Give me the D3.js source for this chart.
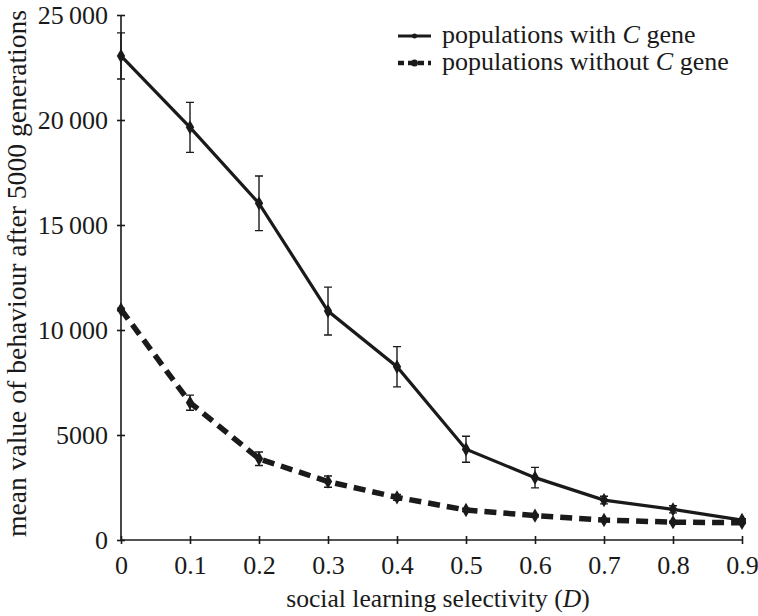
<!DOCTYPE html>
<html>
<head>
<meta charset="utf-8">
<script src="https://cdn.jsdelivr.net/npm/d3@7"></script>
<style>
  body { margin: 0; background: #fff; }
  svg { display: block; }
  text { font-family: "Liberation Serif", "Times New Roman", "DejaVu Serif", serif; fill: #1a1a1a; }
</style>
</head>
<body>
<svg id="chart" width="758" height="616"></svg>
<script>
const xValues = [0, 0.1, 0.2, 0.3, 0.4, 0.5, 0.6, 0.7, 0.8, 0.9];
const withC = [23050, 19650, 16030, 10900, 8250, 4320, 2970, 1900, 1460, 950];
const withCErr = [1100, 1190, 1300, 1140, 960, 620, 490, 180, 170, 60];
const withoutC = [10980, 6540, 3870, 2780, 2030, 1430, 1160, 950, 850, 820];
const withoutCErr = [60, 360, 320, 270, 140, 80, 60, 50, 40, 40];
const yTickValues = [0, 5000, 10000, 15000, 20000, 25000];
const yTickLabels = ["0", "5000", "10\u2009000", "15\u2009000", "20\u2009000", "25\u2009000"];
const xTickLabels = ["0", "0.1", "0.2", "0.3", "0.4", "0.5", "0.6", "0.7", "0.8", "0.9"];
const seriesNames = ["populations with ", "populations without "];

const W = 758, H = 616;
const margin = { left: 121, right: 16, top: 15, bottom: 76 };
const svg = d3.select("#chart");
const ink = "#1a1a1a";
const FONT = '"Liberation Serif", "Times New Roman", "DejaVu Serif", serif';

const x = d3.scaleLinear().domain([0, 0.9]).range([margin.left, W - margin.right]);
const y = d3.scaleLinear().domain([0, 25000]).range([H - margin.bottom, margin.top]);

const xAxis = d3.axisBottom(x).tickValues(xValues).tickFormat((d, i) => xTickLabels[i]).tickSize(4).tickPadding(12);
const yAxis = d3.axisLeft(y).tickValues(yTickValues).tickFormat((d, i) => yTickLabels[i]).tickSize(4).tickPadding(9);

const gx = svg.append("g").attr("transform", `translate(0,${y(0)})`).call(xAxis);
const gy = svg.append("g").attr("transform", `translate(${x(0)},0)`).call(yAxis);
[gx, gy].forEach(g => {
  g.attr("font-family", FONT);
  g.select(".domain").attr("stroke", ink).attr("stroke-width", 1.6);
  g.selectAll(".tick line").attr("stroke", ink).attr("stroke-width", 1.6);
  g.selectAll(".tick text").attr("font-size", 26).attr("font-family", FONT).attr("fill", ink);
});
gx.selectAll(".tick line").attr("y1", -4).attr("y2", 4);
gy.selectAll(".tick line").attr("x1", -4).attr("x2", 4);
gx.select(".domain").attr("d", `M${x(0)},0H${x(0.9)}`);
gy.select(".domain").attr("d", `M0,${y(0)}V${y(25000)}`);

const xt = svg.append("text").attr("x", 438).attr("y", 607)
  .attr("text-anchor", "middle").attr("font-size", 25.6).attr("font-family", FONT);
xt.append("tspan").text("social learning selectivity (");
xt.append("tspan").attr("font-style", "italic").text("D");
xt.append("tspan").text(")");

svg.append("text").attr("transform", `translate(26,273.5) rotate(-90)`)
  .attr("text-anchor", "middle").attr("font-size", 27.6).attr("font-family", FONT)
  .text("mean value of behaviour after 5000 generations");

const series = [
  { vals: withC, err: withCErr, dash: null, width: 3.2 },
  { vals: withoutC, err: withoutCErr, dash: "12,7", width: 5.5 }
];

const line = d3.line().x(d => x(d[0])).y(d => y(d[1]));

series.slice().reverse().forEach(s => {
  const pts = xValues.map((v, i) => [v, s.vals[i], s.err[i]]);
  const g = svg.append("g");
  g.selectAll(".eb").data(pts).enter().append("path")
    .attr("d", d => {
      const cx = x(d[0]), t = y(d[1] + d[2]), b = y(d[1] - d[2]);
      return `M${cx},${t}V${b}M${cx - 4},${t}H${cx + 4}M${cx - 4},${b}H${cx + 4}`;
    })
    .attr("stroke", ink).attr("stroke-width", 1.4).attr("fill", "none");
  g.append("path").datum(pts).attr("d", line)
    .attr("fill", "none").attr("stroke", ink).attr("stroke-width", s.width)
    .attr("stroke-dasharray", s.dash);
  g.selectAll(".mk").data(pts).enter().append("path")
    .attr("d", d3.symbol().type(d3.symbolDiamond).size(60))
    .attr("transform", d => `translate(${x(d[0])},${y(d[1])})`)
    .attr("fill", ink);
});

const legendRows = [36, 63];
series.forEach((s, i) => {
  const ly = legendRows[i];
  svg.append("line").attr("x1", 398).attr("x2", 431).attr("y1", ly).attr("y2", ly)
    .attr("stroke", ink).attr("stroke-width", i === 0 ? 3 : 4.5)
    .attr("stroke-dasharray", i === 0 ? null : "6,4");
  svg.append("circle").attr("cx", 414.5).attr("cy", ly).attr("r", i === 0 ? 2.5 : 3.5).attr("fill", ink);
  const t = svg.append("text").attr("x", 442).attr("y", ly + 6.5).attr("font-size", 26).attr("font-family", FONT);
  t.append("tspan").text(seriesNames[i]);
  t.append("tspan").attr("font-style", "italic").text("C");
  t.append("tspan").text(" gene");
});
</script>
</body>
</html>
